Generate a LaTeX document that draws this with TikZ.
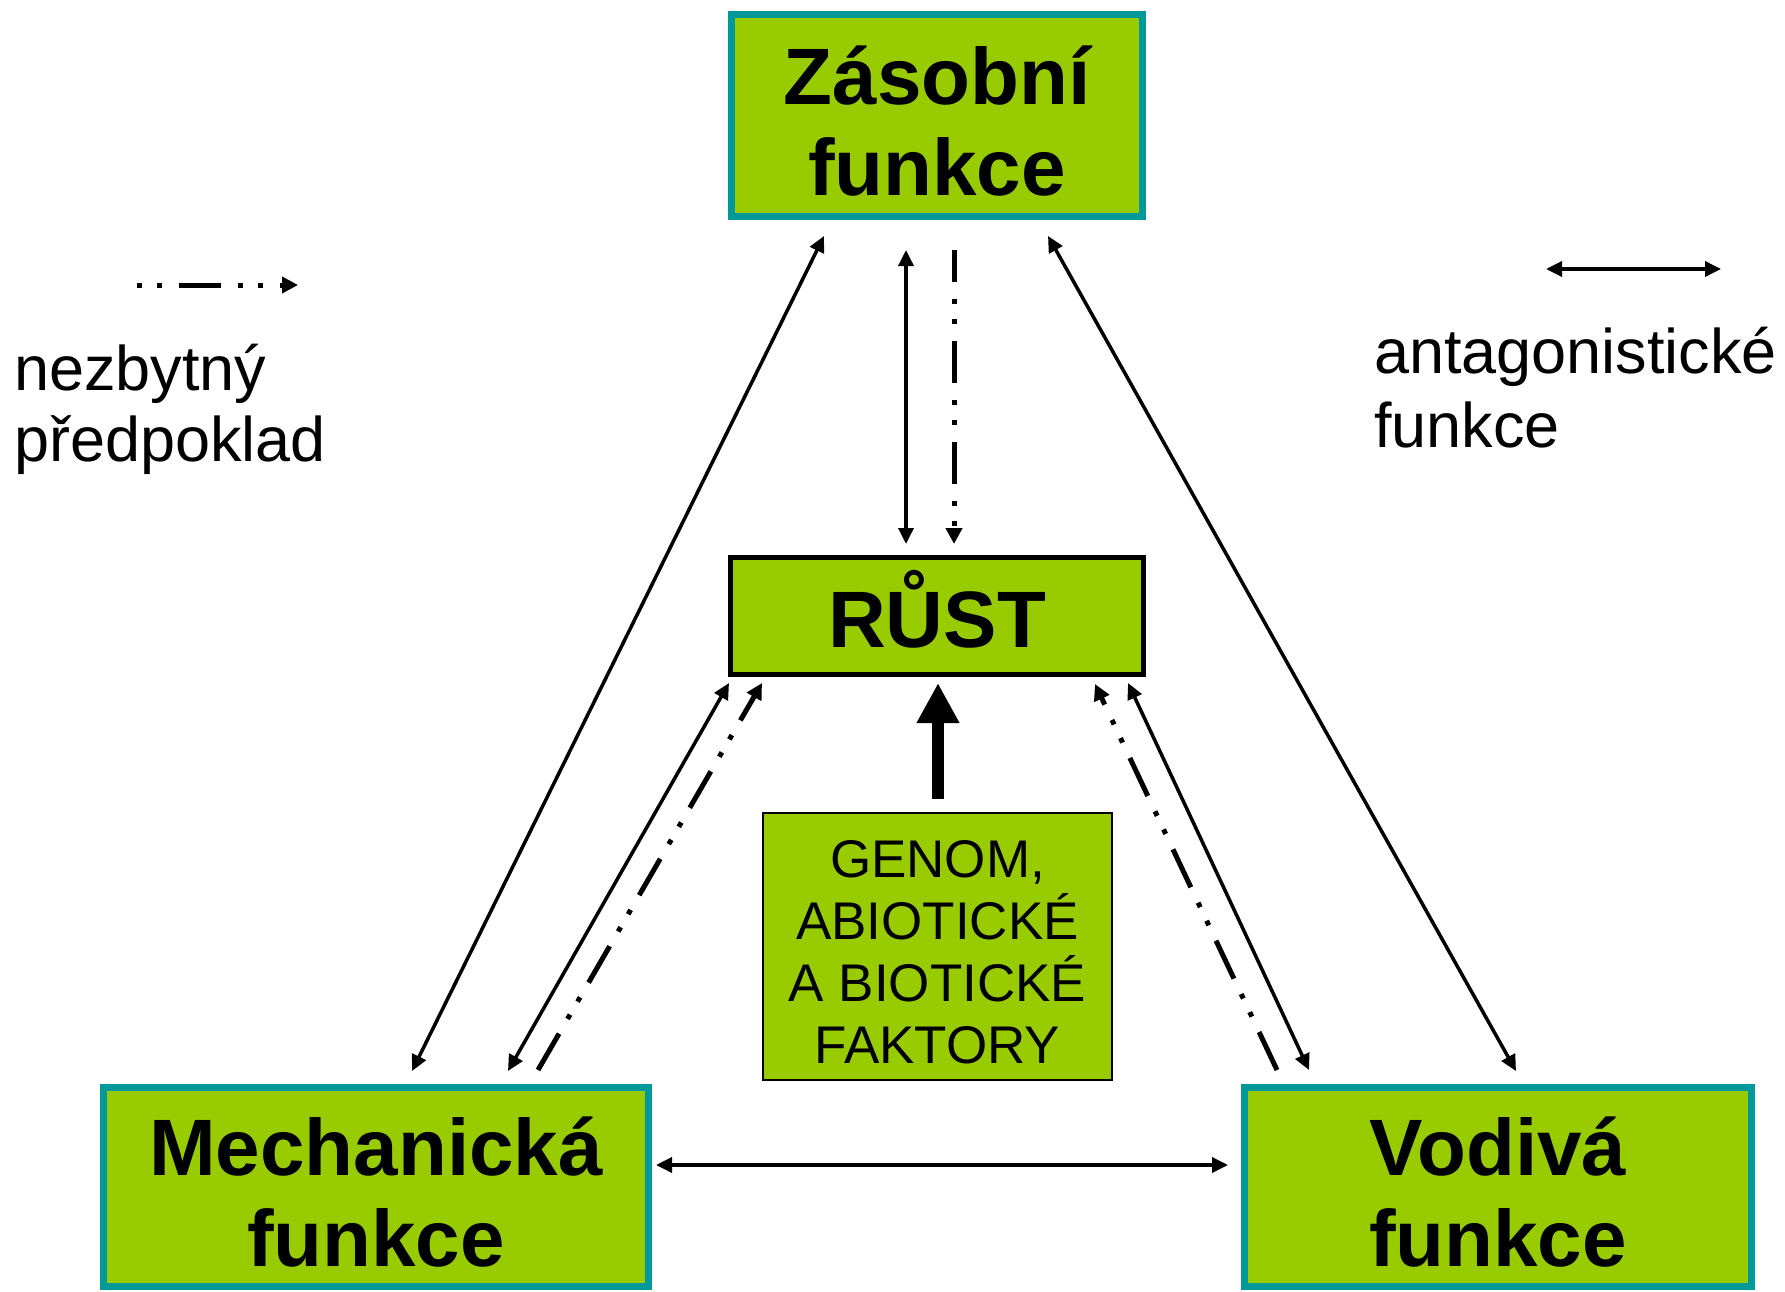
\documentclass[tikz,border=0pt]{standalone}
\usepackage{fontspec}
\setmainfont{Liberation Sans}
\usetikzlibrary{arrows.meta,calc}
\definecolor{boxgreen}{HTML}{99CC00}
\definecolor{boxteal}{HTML}{009999}
\begin{document}
\begin{tikzpicture}[x=1pt,y=-1pt,
  funcbox/.style={draw=boxteal,line width=7pt,fill=boxgreen,inner sep=0pt,outer sep=0pt,
    align=center,font=\fontsize{80}{91}\selectfont\bfseries,text depth=0pt},
  rustbox/.style={draw=black,line width=5pt,fill=boxgreen,inner sep=0pt,outer sep=0pt,
    font=\fontsize{80}{91}\selectfont\bfseries,text height=62pt,text depth=0pt},
  genbox/.style={draw=black,line width=2.5pt,fill=boxgreen,inner sep=0pt,outer sep=0pt,
    align=center,font=\fontsize{53}{62}\selectfont,text height=233pt,text depth=0pt},
  legtext/.style={inner sep=0pt,outer sep=0pt,anchor=base west,font=\fontsize{63}{71}\selectfont},
  twoway/.style={line width=3.5pt,{Triangle[length=16pt,width=15pt]}-{Triangle[length=16pt,width=15pt]}},
  dashdot/.style={line width=5pt,dash pattern=on 42pt off 17pt on 5pt off 15pt on 5pt off 17pt,
    -{Triangle[length=16pt,width=16pt]}},
  bigarrow/.style={line width=12pt,-{Triangle[length=40pt,width=40pt]}}
]
\useasboundingbox (0,0) rectangle (1785,1292);

% boxes
\node[funcbox,minimum width=411pt,minimum height=202pt,text height=161pt] (zas) at (937,115.5) {Zásobní\\funkce};
\node[rustbox,minimum width=413pt,minimum height=117pt] (rust) at (937,616) {RŮST};
\node[genbox,minimum width=349pt,minimum height=267pt] (gen) at (937.5,946.5) {GENOM,\\ABIOTICKÉ\\A BIOTICKÉ\\FAKTORY};
\node[funcbox,minimum width=545pt,minimum height=199pt,text height=158pt] (mech) at (376,1187) {Mechanická\\funkce};
\node[funcbox,minimum width=507pt,minimum height=199pt,text height=158pt] (vod) at (1498,1187) {Vodivá\\funkce};

% legend
\node[legtext] (nez) at (14,390) {nezbytný};
\node[legtext] (pred) at (14,461) {předpoklad};
\node[legtext] (ant) at (1374,373) {antagonistické};
\node[legtext] (fun) at (1374,447) {funkce};
\coordinate (l1s) at (137,285);
\coordinate (l1e) at (298,285);
\coordinate (l2s) at (1546,269);
\coordinate (l2e) at (1721,269);
\draw[dashdot,dash phase=59pt] (l1s) -- (l1e);
\draw[twoway] (l2s) -- (l2e);

% connectors
\draw[twoway] ($(zas.south west)+(92.5,19.5)$) -- ($(mech.north west)+(308.5,-16.5)$);
\draw[twoway] ($(zas.south east)+(-94.5,19.5)$) -- ($(vod.north west)+(271.5,-16.5)$);
\draw[twoway] ($(zas.south)+(-31,33.5)$) -- ($(rust.north)+(-31,-13.5)$);
\draw[dashdot,dash phase=10pt] ($(zas.south)+(17,33.5)$) -- ($(rust.north)+(17,-13.5)$);
\draw[twoway] ($(rust.south west)+(-1.5,8.5)$) -- ($(mech.north east)+(-140.5,-16.5)$);
\draw[dashdot] ($(mech.north east)+(-110.5,-17.5)$) -- ($(rust.south west)+(31.5,8.5)$);
\draw[twoway] ($(rust.south east)+(-15.5,8.5)$) -- ($(vod.north west)+(64.5,-17.5)$);
\draw[dashdot] ($(vod.north west)+(32.5,-17.5)$) -- ($(rust.south east)+(-48.5,9.5)$);
\draw[twoway] ($(mech.east)+(7.5,-22)$) -- ($(vod.west)+(-16.5,-22)$);
\draw[bigarrow] ($(gen.north)+(0.5,-14)$) -- ($(rust.south)+(1,8.5)$);
\end{tikzpicture}
\end{document}
